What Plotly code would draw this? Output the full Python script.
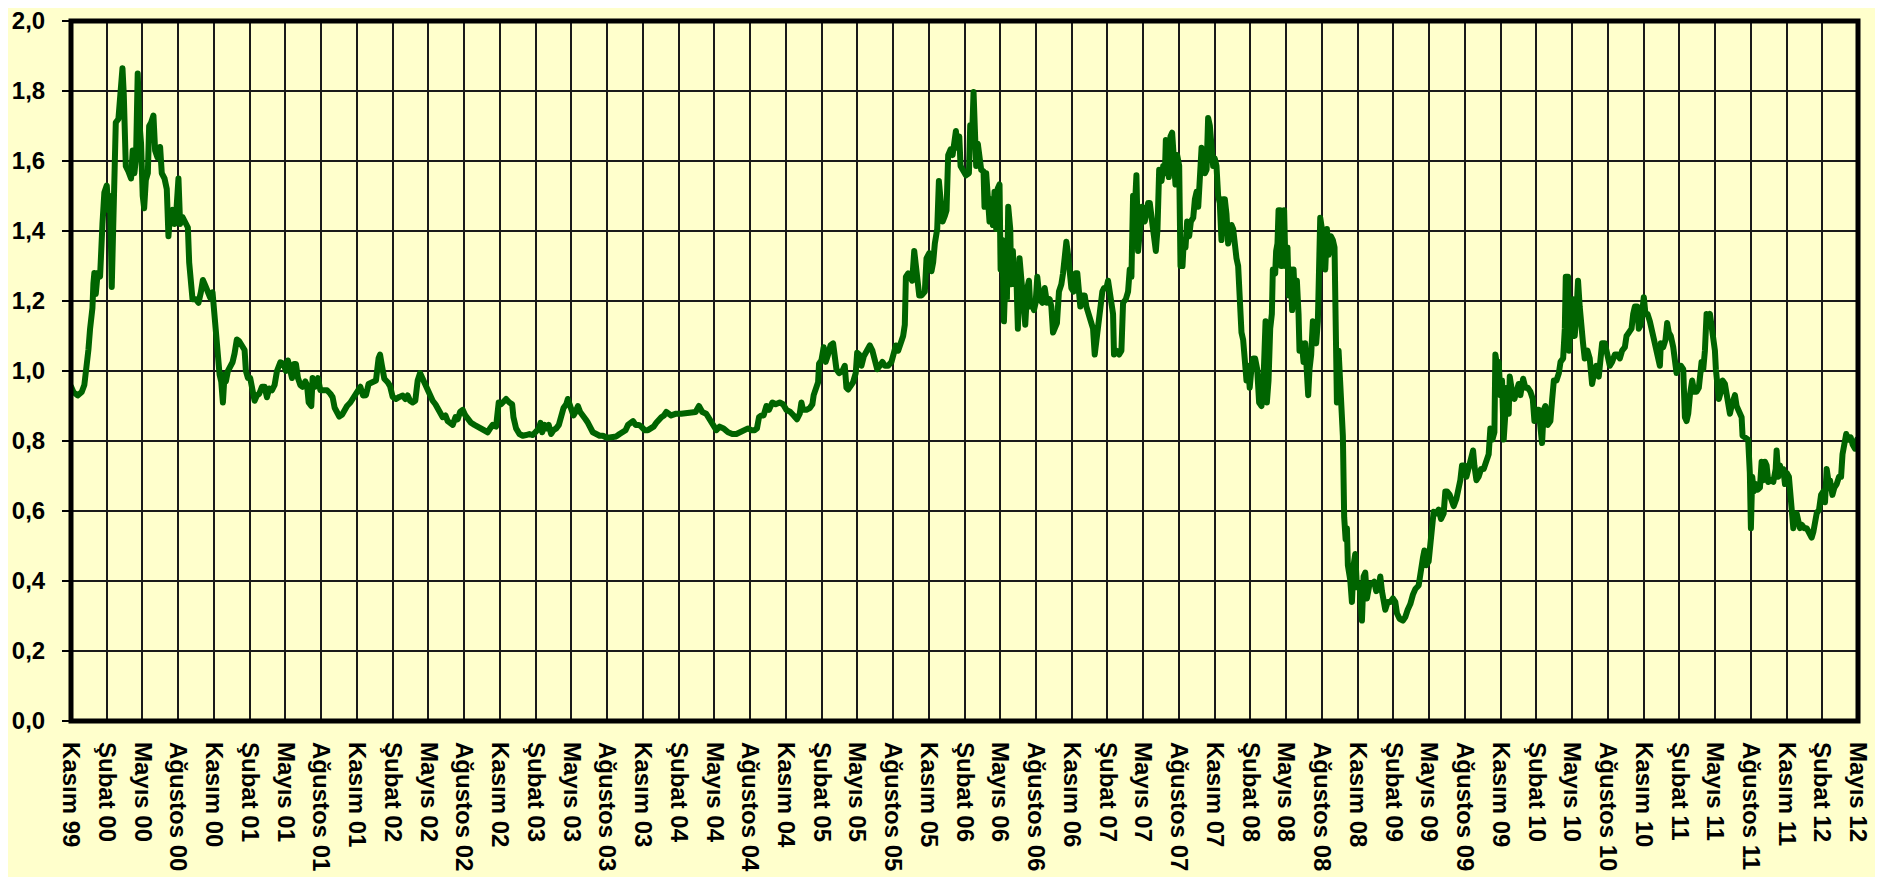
import plotly.graph_objects as go

# x = months elapsed since November 1999, y = ratio value
seg_1999_2001 = [
    (0.0, 0.956), (0.2, 0.94), (0.56, 0.93), (0.9, 0.94), (1.12, 0.96), (1.24, 0.99), (1.46, 1.06),
    (1.6, 1.12), (1.8, 1.18), (1.88, 1.25), (1.96, 1.28), (2.08, 1.22), (2.24, 1.28), (2.44, 1.27),
    (2.52, 1.37), (2.64, 1.42), (2.8, 1.51), (3.0, 1.53), (3.14, 1.46), (3.28, 1.50), (3.42, 1.24),
    (3.56, 1.48), (3.64, 1.61), (3.76, 1.71), (3.98, 1.72), (4.18, 1.81), (4.32, 1.865), (4.43, 1.79),
    (4.54, 1.71), (4.6, 1.585), (4.82, 1.57), (5.04, 1.55), (5.18, 1.63), (5.32, 1.565), (5.46, 1.61),
    (5.6, 1.85), (5.74, 1.71), (5.88, 1.65), (6.02, 1.50), (6.14, 1.465), (6.28, 1.545), (6.45, 1.565),
    (6.56, 1.70), (6.73, 1.71), (6.92, 1.73), (7.06, 1.63), (7.26, 1.61), (7.48, 1.64), (7.62, 1.565),
    (7.85, 1.55), (8.04, 1.52), (8.18, 1.385), (8.32, 1.45), (8.52, 1.46), (8.69, 1.42), (8.85, 1.46),
    (9.02, 1.55), (9.16, 1.42), (9.36, 1.44), (9.58, 1.42), (9.81, 1.41), (9.92, 1.31), (10.09, 1.25),
    (10.2, 1.205), (10.48, 1.205), (10.7, 1.195), (10.9, 1.225), (11.07, 1.26), (11.26, 1.245),
    (11.49, 1.225), (11.68, 1.21), (11.88, 1.225), (12.05, 1.15), (12.16, 1.08), (12.3, 1.015),
    (12.47, 0.99), (12.61, 0.97), (12.75, 0.91), (12.89, 0.99), (13.0, 0.97), (13.17, 1.00),
    (13.36, 1.015), (13.56, 1.025), (13.73, 1.05), (13.92, 1.09), (14.12, 1.085), (14.34, 1.07),
    (14.57, 1.06), (14.68, 1.00), (14.85, 0.98), (15.04, 0.98), (15.24, 0.94), (15.41, 0.915),
    (15.6, 0.93), (15.8, 0.935), (16.03, 0.955), (16.25, 0.955), (16.45, 0.925), (16.64, 0.95),
    (16.87, 0.945), (17.09, 0.96), (17.29, 1.00), (17.57, 1.025), (17.85, 1.02), (18.04, 1.00),
    (18.21, 1.03), (18.41, 1.00), (18.55, 0.98), (18.71, 1.02), (18.88, 1.02), (19.05, 0.98),
    (19.25, 0.96), (19.44, 0.955), (19.67, 0.97), (19.81, 0.96), (19.95, 0.91), (20.17, 0.90),
    (20.28, 0.98), (20.51, 0.955), (20.73, 0.98), (20.93, 0.945), (21.21, 0.945), (21.49, 0.945),
    (21.77, 0.935), (21.96, 0.925), (22.13, 0.895), (22.33, 0.88), (22.52, 0.87), (22.75, 0.875),
    (22.89, 0.885), (23.17, 0.90), (23.45, 0.91), (23.73, 0.925), (24.01, 0.935), (24.29, 0.955),
    (24.51, 0.93),
]

seg_2001_2004 = [
    (24.76, 0.931), (24.98, 0.963), (25.32, 0.968), (25.6, 0.973), (25.82, 1.037), (25.94, 1.047),
    (26.1, 1.015), (26.3, 0.978), (26.58, 0.968), (26.78, 0.957), (27.0, 0.926), (27.28, 0.92),
    (27.56, 0.926), (27.84, 0.93), (28.06, 0.92), (28.26, 0.93), (28.46, 0.915), (28.68, 0.91),
    (28.9, 0.915), (29.1, 0.973), (29.3, 0.994), (29.52, 0.978), (29.75, 0.963), (29.94, 0.941),
    (30.17, 0.926), (30.36, 0.915), (30.59, 0.905), (30.78, 0.894), (30.98, 0.878), (31.2, 0.868),
    (31.43, 0.873), (31.62, 0.857), (31.82, 0.852), (32.04, 0.846), (32.27, 0.868), (32.46, 0.862),
    (32.66, 0.883), (32.88, 0.889), (33.1, 0.873), (33.3, 0.862), (33.58, 0.852), (33.86, 0.846),
    (34.14, 0.841), (34.42, 0.836), (34.7, 0.831), (34.98, 0.825), (35.18, 0.836), (35.4, 0.846),
    (35.68, 0.841), (35.82, 0.878), (35.9, 0.91), (36.1, 0.905), (36.3, 0.915), (36.52, 0.92),
    (36.8, 0.91), (37.03, 0.905), (37.14, 0.868), (37.36, 0.836), (37.64, 0.82), (37.92, 0.815),
    (38.2, 0.817), (38.48, 0.82), (38.76, 0.817), (39.04, 0.825), (39.27, 0.836), (39.41, 0.852),
    (39.55, 0.825), (39.75, 0.846), (39.94, 0.836), (40.1, 0.846), (40.3, 0.82), (40.5, 0.831),
    (40.73, 0.836), (40.95, 0.846), (41.15, 0.878), (41.34, 0.894), (41.57, 0.905), (41.7, 0.92),
    (41.85, 0.905), (41.99, 0.894), (42.18, 0.873), (42.35, 0.883), (42.55, 0.9), (42.74, 0.883),
    (42.97, 0.868), (43.19, 0.862), (43.39, 0.852), (43.58, 0.841), (43.8, 0.825), (44.09, 0.82),
    (44.37, 0.815), (44.65, 0.815), (44.93, 0.81), (45.21, 0.81), (45.49, 0.81), (45.77, 0.813),
    (46.05, 0.82), (46.33, 0.825), (46.55, 0.831), (46.75, 0.846), (47.03, 0.852), (47.17, 0.857),
    (47.39, 0.846), (47.67, 0.846), (47.87, 0.841), (48.15, 0.831), (48.43, 0.831), (48.71, 0.836),
    (48.9, 0.841), (49.13, 0.852), (49.35, 0.862), (49.55, 0.868), (49.77, 0.873), (49.97, 0.883),
]

seg_2004_2006 = [
    (50.38, 0.873), (50.8, 0.878), (51.22, 0.878), (51.64, 0.88), (52.06, 0.883), (52.43, 0.883),
    (52.71, 0.9), (52.99, 0.883), (53.32, 0.878), (53.6, 0.862), (53.89, 0.846), (54.17, 0.831),
    (54.45, 0.841), (54.78, 0.836), (55.15, 0.825), (55.51, 0.82), (55.85, 0.82), (56.18, 0.825),
    (56.55, 0.831), (56.83, 0.836), (57.1, 0.831), (57.39, 0.831), (57.58, 0.836), (57.75, 0.868),
    (57.95, 0.873), (58.14, 0.873), (58.37, 0.9), (58.59, 0.889), (58.87, 0.91), (59.15, 0.905),
    (59.49, 0.91), (59.77, 0.905), (60.05, 0.889), (60.38, 0.883), (60.66, 0.873), (60.94, 0.862),
    (61.17, 0.878), (61.31, 0.91), (61.45, 0.889), (61.73, 0.889), (62.01, 0.894), (62.23, 0.905),
    (62.34, 0.931), (62.51, 0.957), (62.71, 0.968), (62.79, 1.021), (62.99, 1.031), (63.18, 1.068),
    (63.35, 1.026), (63.55, 1.047), (63.75, 1.073), (63.97, 1.079), (64.11, 1.047), (64.25, 1.005),
    (64.47, 0.994), (64.75, 1.0), (64.95, 1.015), (65.09, 0.952), (65.23, 0.947), (65.43, 0.957),
    (65.65, 0.968), (65.87, 0.994), (65.99, 1.052), (66.16, 1.047), (66.35, 1.015), (66.55, 1.042),
    (66.77, 1.058), (67.05, 1.073), (67.27, 1.058), (67.47, 1.021), (67.67, 1.005), (67.89, 1.015),
    (68.11, 1.026), (68.31, 1.015), (68.59, 1.015), (68.87, 1.026), (69.01, 1.047), (69.24, 1.073),
    (69.43, 1.058), (69.63, 1.079), (69.85, 1.1), (69.99, 1.132), (70.08, 1.269), (70.27, 1.279),
    (70.47, 1.264), (70.61, 1.258), (70.78, 1.343), (70.92, 1.3), (71.03, 1.248), (71.2, 1.216),
    (71.4, 1.216), (71.67, 1.227), (71.81, 1.322), (72.04, 1.337), (72.23, 1.285), (72.37, 1.311),
    (72.51, 1.364), (72.71, 1.406), (72.85, 1.543), (72.99, 1.459), (73.16, 1.427), (73.35, 1.443),
    (73.49, 1.459), (73.63, 1.617), (73.83, 1.633), (74.0, 1.617), (74.11, 1.66), (74.28, 1.686),
    (74.39, 1.638), (74.56, 1.67), (74.67, 1.586), (74.89, 1.575), (75.12, 1.559),
]

seg_2006_2008 = [
    (75.37, 1.565), (75.48, 1.702), (75.65, 1.681), (75.76, 1.797), (75.87, 1.691), (75.98, 1.586),
    (76.12, 1.649), (76.26, 1.607), (76.4, 1.575), (76.6, 1.57), (76.68, 1.469), (76.82, 1.565),
    (76.96, 1.501), (77.1, 1.427), (77.24, 1.491), (77.38, 1.417), (77.52, 1.512), (77.66, 1.406),
    (77.8, 1.522), (77.94, 1.533), (78.03, 1.29), (78.17, 1.374), (78.31, 1.142), (78.45, 1.29),
    (78.56, 1.205), (78.67, 1.469), (78.84, 1.406), (78.92, 1.248), (79.06, 1.343), (79.2, 1.248),
    (79.34, 1.29), (79.48, 1.121), (79.62, 1.322), (79.76, 1.248), (79.96, 1.184), (80.1, 1.132),
    (80.27, 1.237), (80.41, 1.258), (80.52, 1.184), (80.69, 1.195), (80.83, 1.174), (80.97, 1.195),
    (81.11, 1.269), (81.31, 1.205), (81.53, 1.195), (81.73, 1.237), (81.92, 1.195), (82.15, 1.205),
    (82.29, 1.184), (82.43, 1.11), (82.57, 1.121), (82.76, 1.137), (82.93, 1.227), (83.13, 1.248),
    (83.27, 1.279), (83.41, 1.353), (83.55, 1.369), (83.69, 1.332), (83.83, 1.269), (83.97, 1.237),
    (84.16, 1.227), (84.33, 1.279), (84.47, 1.279), (84.61, 1.227), (84.72, 1.184), (84.89, 1.216),
    (85.09, 1.216), (85.23, 1.184), (85.45, 1.153), (85.65, 1.137), (85.79, 1.121), (85.93, 1.047),
    (86.07, 1.089), (86.26, 1.132), (86.43, 1.163), (86.57, 1.227), (86.71, 1.237), (86.91, 1.237),
    (87.05, 1.258), (87.19, 1.227), (87.33, 1.184), (87.47, 1.163), (87.55, 1.047), (87.75, 1.058),
    (87.98, 1.047), (88.17, 1.058), (88.31, 1.195), (88.54, 1.205), (88.73, 1.227), (88.87, 1.29),
    (89.01, 1.269), (89.15, 1.501), (89.29, 1.459), (89.43, 1.559), (89.57, 1.343), (89.71, 1.417),
    (89.9, 1.469), (90.13, 1.427), (90.27, 1.459), (90.41, 1.48), (90.55, 1.48), (90.69, 1.438),
    (90.89, 1.396), (91.06, 1.343), (91.2, 1.406), (91.34, 1.575), (91.54, 1.543), (91.68, 1.586),
    (91.82, 1.565), (91.9, 1.66), (92.01, 1.649), (92.15, 1.554), (92.29, 1.67), (92.43, 1.681),
    (92.57, 1.596), (92.71, 1.533), (92.85, 1.617), (93.02, 1.586), (93.13, 1.3), (93.3, 1.3),
    (93.41, 1.374), (93.55, 1.353), (93.69, 1.427), (93.86, 1.385), (94.0, 1.427), (94.2, 1.438),
    (94.34, 1.491), (94.48, 1.512), (94.62, 1.469), (94.75, 1.607), (94.9, 1.638), (95.04, 1.628),
    (95.18, 1.565), (95.32, 1.575), (95.45, 1.723), (95.59, 1.702), (95.73, 1.617), (95.87, 1.586),
    (96.01, 1.607), (96.15, 1.586), (96.29, 1.501), (96.43, 1.48), (96.57, 1.374), (96.71, 1.491),
    (96.85, 1.491), (96.99, 1.448), (97.13, 1.364), (97.27, 1.406), (97.41, 1.417), (97.55, 1.406),
    (97.69, 1.353), (97.83, 1.322), (97.97, 1.3), (98.11, 1.184), (98.25, 1.11), (98.39, 1.089),
    (98.53, 1.036), (98.67, 0.973), (98.8, 1.015), (98.94, 0.952), (99.08, 1.005), (99.22, 1.036),
    (99.39, 1.036), (99.57, 1.005), (99.73, 0.91), (99.93, 0.9), (100.13, 1.005), (100.27, 1.142),
]

seg_2008_2010 = [
    (100.38, 0.91), (100.52, 0.973), (100.66, 1.121), (100.8, 1.163), (100.88, 1.29), (101.08, 1.279),
    (101.16, 1.343), (101.27, 1.364), (101.36, 1.459), (101.5, 1.459), (101.58, 1.3), (101.72, 1.459),
    (101.83, 1.459), (101.94, 1.3), (102.11, 1.353), (102.22, 1.216), (102.39, 1.29), (102.5, 1.174),
    (102.62, 1.29), (102.76, 1.184), (102.9, 1.258), (103.04, 1.163), (103.12, 1.058), (103.32, 1.079),
    (103.46, 1.026), (103.6, 1.079), (103.74, 0.973), (103.85, 0.931), (103.96, 1.005), (104.1, 1.047),
    (104.24, 1.142), (104.38, 1.089), (104.52, 1.079), (104.66, 1.142), (104.75, 1.29), (104.86, 1.438),
    (105.0, 1.406), (105.14, 1.353), (105.28, 1.29), (105.42, 1.406), (105.56, 1.332), (105.75, 1.385),
    (105.92, 1.374), (106.06, 1.353), (106.15, 1.079), (106.26, 0.91), (106.4, 1.058), (106.54, 0.973),
    (106.68, 0.92), (106.76, 0.815), (106.87, 0.582), (106.99, 0.519), (107.1, 0.551), (107.18, 0.445),
    (107.38, 0.403), (107.52, 0.34), (107.66, 0.445), (107.8, 0.477), (107.94, 0.382), (108.16, 0.392),
    (108.36, 0.287), (108.5, 0.413), (108.64, 0.424), (108.78, 0.35), (109.0, 0.392), (109.2, 0.392),
    (109.39, 0.398), (109.56, 0.371), (109.76, 0.382), (109.9, 0.413), (110.04, 0.371), (110.18, 0.35),
    (110.32, 0.318), (110.52, 0.34), (110.74, 0.34), (110.96, 0.35), (111.16, 0.34), (111.3, 0.308),
    (111.52, 0.292), (111.8, 0.287), (112.0, 0.297), (112.2, 0.318), (112.42, 0.334), (112.64, 0.361),
    (112.84, 0.377), (113.12, 0.387), (113.32, 0.445), (113.48, 0.466), (113.6, 0.487), (113.76, 0.445),
    (113.96, 0.456), (114.1, 0.519), (114.24, 0.572), (114.38, 0.598), (114.61, 0.593), (114.8, 0.604),
    (115.0, 0.577), (115.22, 0.593), (115.36, 0.656), (115.5, 0.656), (115.73, 0.646), (115.92, 0.625),
    (116.06, 0.614), (116.29, 0.635), (116.48, 0.661), (116.62, 0.688), (116.76, 0.73), (116.96, 0.73),
    (117.13, 0.698), (117.32, 0.73), (117.52, 0.762), (117.69, 0.773), (117.8, 0.73), (117.97, 0.688),
    (118.16, 0.698), (118.36, 0.72), (118.58, 0.72), (118.81, 0.741), (119.0, 0.762), (119.14, 0.836),
    (119.31, 0.804), (119.48, 0.825), (119.56, 1.047), (119.7, 1.015), (119.84, 1.026), (119.98, 0.931),
    (120.12, 0.973), (120.26, 0.804), (120.41, 0.931), (120.54, 0.952), (120.68, 0.878), (120.77, 0.984),
    (120.96, 0.941), (121.16, 0.92), (121.33, 0.941), (121.52, 0.963), (121.66, 0.931), (121.89, 0.978),
    (122.08, 0.952), (122.28, 0.952), (122.5, 0.941), (122.7, 0.92), (122.84, 0.857), (123.01, 0.889),
    (123.2, 0.889), (123.34, 0.846), (123.48, 0.794), (123.62, 0.889), (123.76, 0.9), (123.96, 0.846),
    (124.18, 0.857), (124.33, 0.92), (124.47, 0.973), (124.69, 0.973), (124.89, 0.994), (125.03, 1.026),
    (125.25, 1.036), (125.39, 1.121), (125.47, 1.269),
]

seg_2010_2012 = [
    (125.66, 1.269), (125.75, 1.058), (125.89, 1.184), (126.0, 1.121), (126.08, 1.205), (126.22, 1.1),
    (126.36, 1.163), (126.5, 1.258), (126.64, 1.184), (126.78, 1.1), (126.92, 1.079), (127.06, 1.036),
    (127.29, 1.058), (127.48, 1.036), (127.68, 0.963), (127.85, 0.994), (128.04, 1.015), (128.24, 0.984),
    (128.41, 1.036), (128.52, 1.079), (128.75, 1.079), (128.97, 1.047), (129.17, 1.015), (129.36, 1.026),
    (129.59, 1.047), (129.81, 1.047), (130.01, 1.036), (130.2, 1.058), (130.43, 1.068), (130.57, 1.1),
    (130.76, 1.11), (130.99, 1.121), (131.13, 1.163), (131.27, 1.184), (131.46, 1.184), (131.6, 1.121),
    (131.77, 1.132), (131.88, 1.195), (132.02, 1.211), (132.16, 1.163), (132.33, 1.163), (132.53, 1.142),
    (132.67, 1.121), (132.81, 1.11), (132.95, 1.079), (133.09, 1.058), (133.23, 1.036), (133.37, 1.015),
    (133.45, 1.079), (133.65, 1.068), (133.84, 1.089), (133.98, 1.137), (134.12, 1.11), (134.29, 1.1),
    (134.49, 1.068), (134.63, 1.026), (134.77, 0.994), (134.91, 1.015), (135.13, 1.015), (135.33, 1.005),
    (135.47, 0.868), (135.61, 0.857), (135.75, 0.878), (135.89, 0.931), (136.08, 0.973), (136.25, 0.941),
    (136.45, 0.941), (136.64, 0.952), (136.76, 0.994), (136.87, 1.026), (137.01, 1.005), (137.15, 1.058),
    (137.29, 1.163), (137.43, 1.153), (137.57, 1.163), (137.71, 1.132), (137.85, 1.089), (137.99, 1.058),
    (138.07, 1.005), (138.21, 0.963), (138.32, 0.92), (138.49, 0.941), (138.63, 0.973), (138.83, 0.963),
    (138.97, 0.941), (139.11, 0.92), (139.25, 0.878), (139.39, 0.9), (139.53, 0.92), (139.67, 0.931),
    (139.81, 0.9), (139.95, 0.889), (140.09, 0.878), (140.23, 0.868), (140.31, 0.815), (140.51, 0.81),
    (140.78, 0.804), (140.92, 0.709), (141.01, 0.551), (141.12, 0.698), (141.26, 0.656), (141.4, 0.677),
    (141.57, 0.661), (141.77, 0.667), (141.91, 0.741), (142.05, 0.688), (142.19, 0.741), (142.33, 0.73),
    (142.47, 0.683), (142.69, 0.688), (142.89, 0.683), (143.09, 0.72), (143.17, 0.773), (143.31, 0.698),
    (143.45, 0.73), (143.59, 0.709), (143.73, 0.72), (143.87, 0.677), (144.01, 0.709), (144.2, 0.698),
    (144.29, 0.646), (144.43, 0.582), (144.57, 0.551), (144.71, 0.593), (144.85, 0.593), (144.99, 0.572),
    (145.13, 0.551), (145.27, 0.561), (145.49, 0.551), (145.69, 0.551), (145.88, 0.54), (146.11, 0.524),
    (146.25, 0.54), (146.39, 0.572), (146.53, 0.593), (146.73, 0.604), (146.9, 0.646), (147.09, 0.656),
    (147.23, 0.625), (147.37, 0.72), (147.51, 0.688), (147.65, 0.688), (147.85, 0.646), (148.02, 0.667),
    (148.21, 0.677), (148.41, 0.698), (148.58, 0.698), (148.7, 0.762), (148.87, 0.804), (149.01, 0.82),
    (149.19, 0.804), (149.39, 0.81), (149.56, 0.789), (149.75, 0.778), (149.92, 0.804), (150.0, 0.794),
]

tick_months = list(range(0, 151, 3))
tick_labels = [
    "Kasım 99",
    "Şubat 00", "Mayıs 00", "Ağustos 00", "Kasım 00",
    "Şubat 01", "Mayıs 01", "Ağustos 01", "Kasım 01",
    "Şubat 02", "Mayıs 02", "Ağustos 02", "Kasım 02",
    "Şubat 03", "Mayıs 03", "Ağustos 03", "Kasım 03",
    "Şubat 04", "Mayıs 04", "Ağustos 04", "Kasım 04",
    "Şubat 05", "Mayıs 05", "Ağustos 05", "Kasım 05",
    "Şubat 06", "Mayıs 06", "Ağustos 06", "Kasım 06",
    "Şubat 07", "Mayıs 07", "Ağustos 07", "Kasım 07",
    "Şubat 08", "Mayıs 08", "Ağustos 08", "Kasım 08",
    "Şubat 09", "Mayıs 09", "Ağustos 09", "Kasım 09",
    "Şubat 10", "Mayıs 10", "Ağustos 10", "Kasım 10",
    "Şubat 11", "Mayıs 11", "Ağustos 11", "Kasım 11",
    "Şubat 12", "Mayıs 12",
]

y_tick_values = [0.0, 0.2, 0.4, 0.6, 0.8, 1.0, 1.2, 1.4, 1.6, 1.8, 2.0]
y_tick_labels = ["0,0", "0,2", "0,4", "0,6", "0,8", "1,0", "1,2", "1,4", "1,6", "1,8", "2,0"]

series = seg_1999_2001 + seg_2001_2004 + seg_2004_2006 + seg_2006_2008 + seg_2008_2010 + seg_2010_2012
xs = [p[0] for p in series]
ys = [p[1] for p in series]

BG = "#FFFFCC"
FONT = "Liberation Sans, Arial, sans-serif"

fig = go.Figure()
fig.add_trace(go.Scatter(
    x=xs, y=ys, mode="lines",
    line=dict(color="#006400", width=6),
    hoverinfo="skip", showlegend=False,
))

fig.update_layout(
    width=1883, height=877,
    margin=dict(l=63, r=33, t=13, b=164),
    paper_bgcolor=BG, plot_bgcolor=BG,
    font=dict(family=FONT, color="black"),
    showlegend=False,
    xaxis=dict(
        range=[0, 150], tickmode="array", tickvals=tick_months, ticktext=tick_labels,
        tickangle=90, showgrid=True, gridcolor="#1a1a1a", gridwidth=2,
        zeroline=False, showline=False, ticks="", ticklabelstandoff=20,
        automargin=False, ticklabeloverflow="allow",
        tickfont=dict(family=FONT, size=24, color="black", weight="bold"),
    ),
    yaxis=dict(
        range=[0, 2], tickmode="array", tickvals=y_tick_values, ticktext=y_tick_labels,
        showgrid=True, gridcolor="#1a1a1a", gridwidth=2,
        zeroline=False, showline=False, ticks="outside", ticklen=8, tickwidth=2,
        tickcolor="black", ticklabelstandoff=12,
        automargin=False, ticklabeloverflow="allow",
        tickfont=dict(family=FONT, size=24, color="black", weight="bold"),
    ),
    shapes=[dict(
        type="rect", xref="paper", yref="paper", x0=0, y0=0, x1=1, y1=1,
        line=dict(color="black", width=5), fillcolor="rgba(0,0,0,0)", layer="above",
    )],
)

post = """
function fixJoins(){document.querySelectorAll('.scatterlayer path.js-line').forEach(function(p){p.style.strokeLinejoin='round';p.style.strokeLinecap='round';});}
fixJoins(); setTimeout(fixJoins, 50); setTimeout(fixJoins, 300);
"""
fig.write_html("out.html", post_script=post)
